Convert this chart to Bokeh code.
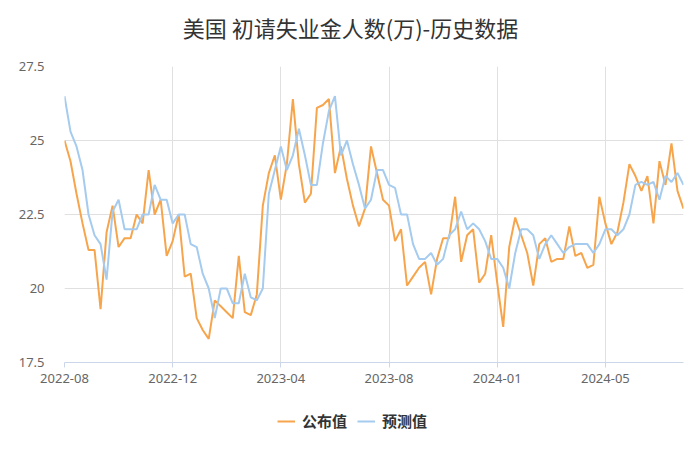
import pandas as pd
from bokeh.plotting import figure
from bokeh.layouts import column
from bokeh.models import Range1d, FixedTicker, Legend, LegendItem, ColumnDataSource, Label
from bokeh.embed import file_html
from bokeh.resources import INLINE

# weekly release dates (one week, 2024-01-11, is absent in the source series)
weeks = (list(pd.date_range("2022-08-18", "2024-01-04", freq="7D").strftime("%Y-%m-%d"))
         + list(pd.date_range("2024-01-18", "2024-08-15", freq="7D").strftime("%Y-%m-%d")))

# 公布值 (actual), 万人
actual = [25.0, 24.3, 23.2, 22.2, 21.3, 21.3, 19.3, 21.9, 22.8, 21.4, 21.7, 21.7, 22.5, 22.2, 24.0, 22.5, 23.0,
          21.1, 21.6, 22.5, 20.4, 20.5, 19.0, 18.6, 18.3, 19.6, 19.4, 19.2, 19.0, 21.1, 19.2, 19.1, 19.8, 22.8,
          23.9, 24.5, 23.0, 24.2, 26.4, 24.2, 22.9, 23.2, 26.1, 26.2, 26.4, 23.9, 24.8, 23.7, 22.8, 22.1, 22.7, 24.8,
          23.9, 23.0, 22.8, 21.6, 22.0, 20.1, 20.4, 20.7, 20.9, 19.8, 21.0, 21.7, 21.7, 23.1, 20.9, 21.8, 22.0, 20.2, 20.5, 21.8, 20.2,
          18.7, 21.4, 22.4, 21.8, 21.2, 20.1, 21.5, 21.7, 20.9, 21.0, 21.0, 22.1, 21.1, 21.2, 20.7, 20.8, 23.1, 22.2, 21.5,
          21.9, 22.9, 24.2, 23.8, 23.3, 23.8, 22.2, 24.3, 23.5, 24.9, 23.3, 22.7]

# 预测值 (forecast), 万人
forecast = [26.5, 25.3, 24.8, 24.0, 22.5, 21.8, 21.5, 20.3, 22.6, 23.0, 22.0, 22.0, 22.0, 22.5, 22.5, 23.5, 23.0,
            23.0, 22.2, 22.5, 22.5, 21.5, 21.4, 20.5, 20.0, 19.0, 20.0, 20.0, 19.5, 19.5, 20.5, 19.7, 19.6, 20.0,
            23.2, 24.0, 24.8, 24.0, 24.5, 25.4, 24.5, 23.5, 23.5, 24.9, 26.0, 26.5, 24.5, 25.0, 24.2, 23.5, 22.7, 23.0,
            24.0, 24.0, 23.5, 23.4, 22.5, 22.5, 21.5, 21.0, 21.0, 21.2, 20.8, 21.0, 21.8, 22.0, 22.6, 22.0, 22.2, 22.0, 21.6, 21.0, 21.0,
            20.7, 20.0, 21.2, 22.0, 22.0, 21.8, 21.0, 21.5, 21.8, 21.5, 21.2, 21.4, 21.5, 21.5, 21.5, 21.2, 21.5, 22.0, 22.0,
            21.8, 22.0, 22.5, 23.5, 23.6, 23.5, 23.6, 23.0, 23.8, 23.6, 23.9, 23.5]

title_text = "美国 初请失业金人数(万)-历史数据"
series_names = ["公布值", "预测值"]
series_colors = ["#f7a54c", "#a5cbef"]

y_ticks = [17.5, 20, 22.5, 25, 27.5]
y_tick_labels = ["17.5", "20", "22.5", "25", "27.5"]
label_every = 18

idx = list(range(len(weeks)))
src = ColumnDataSource(dict(i=idx, week=weeks, actual=actual, forecast=forecast))

BORDERS = dict(min_border_left=64, min_border_right=17)


def strip(height):
    f = figure(width=700, height=height, output_backend="svg", toolbar_location=None,
               x_range=Range1d(0, 1), y_range=Range1d(0, 1),
               x_axis_location=None, y_axis_location=None,
               min_border_top=0, min_border_bottom=0, **BORDERS)
    f.outline_line_color = None
    f.xgrid.visible = False
    f.ygrid.visible = False
    return f


# title strip
hd = strip(50)
hd.add_layout(Label(x=0.462, y=0.48, text=title_text, text_align="center", text_baseline="middle",
                    text_font="Noto Sans CJK SC", text_font_size="22px", text_color="#333333"))

# main chart
p = figure(width=700, height=350, output_backend="svg", toolbar_location=None,
           x_range=Range1d(0, len(weeks) - 1), y_range=Range1d(y_ticks[0], y_ticks[-1]),
           min_border_top=16, min_border_bottom=38, **BORDERS)
p.outline_line_color = None

x_ticks = idx[::label_every]
p.xaxis.ticker = FixedTicker(ticks=x_ticks)
p.xaxis.major_label_overrides = {i: weeks[i][:7] for i in x_ticks}
p.xaxis.axis_line_color = "#ccd6eb"
p.xaxis.major_tick_line_color = "#ccd6eb"
p.xaxis.major_tick_out = 5
p.xaxis.major_tick_in = 0
p.xaxis.minor_tick_line_color = None
p.xaxis.major_label_standoff = 6
p.xaxis.major_label_text_font = "Noto Sans"
p.xaxis.major_label_text_font_size = "13px"
p.xaxis.major_label_text_color = "#666666"

p.yaxis.ticker = FixedTicker(ticks=y_ticks)
p.yaxis.major_label_overrides = {t: l for t, l in zip(y_ticks, y_tick_labels)}
p.yaxis.axis_line_color = None
p.yaxis.major_tick_line_color = None
p.yaxis.major_tick_out = 0
p.yaxis.major_tick_in = 0
p.yaxis.minor_tick_line_color = None
p.yaxis.major_label_standoff = 20
p.yaxis.major_label_text_font = "Noto Sans"
p.yaxis.major_label_text_font_size = "13px"
p.yaxis.major_label_text_color = "#666666"

p.xgrid.ticker = FixedTicker(ticks=x_ticks)
p.xgrid.grid_line_color = "#e0e0e0"
p.ygrid.ticker = FixedTicker(ticks=y_ticks)
p.ygrid.grid_line_color = "#e0e0e0"

p.line(x="i", y="actual", source=src, line_color=series_colors[0], line_width=2)
p.line(x="i", y="forecast", source=src, line_color=series_colors[1], line_width=2)

# legend strip beneath the chart
leg = strip(55)
items = []
for name, col in zip(series_names, series_colors):
    r = leg.line(x=[-2, -1], y=[-2, -1], line_color=col, line_width=2)
    items.append(LegendItem(label=name, renderers=[r]))
legend = Legend(items=items, orientation="horizontal", location=(213, 24),
                label_text_font="Noto Sans CJK SC", label_text_font_style="bold",
                label_text_font_size="15px", label_text_color="#333333",
                glyph_width=18, glyph_height=18, label_height=18, label_standoff=7, spacing=10,
                padding=0, margin=0, border_line_color=None, background_fill_alpha=0)
leg.add_layout(legend)

layout = column(hd, p, leg, spacing=0)
open("out.html", "w").write(file_html(layout, INLINE))
